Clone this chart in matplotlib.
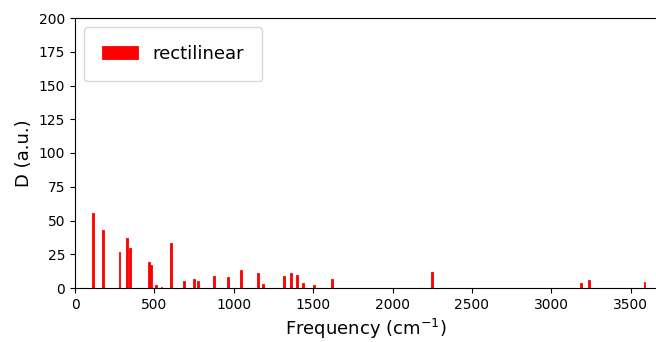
import numpy as np
import matplotlib
matplotlib.use('Agg')
import matplotlib.pyplot as plt

# Vibrational modes: frequency (cm^-1) and intensity D (a.u.)
freqs = [114, 175, 280, 326, 349, 467, 480, 511, 545, 606, 684, 751, 772,
         877, 966, 1048, 1151, 1183, 1315, 1359, 1400, 1435, 1504, 1618,
         2246, 3188, 3234, 3586]
D = [55.3, 43.0, 26.7, 37.0, 29.6, 19.0, 16.8, 2.0, 0.5, 33.0, 5.0, 6.7, 5.0,
     9.0, 8.0, 13.5, 11.0, 3.0, 8.7, 11.3, 9.6, 3.5, 2.5, 6.7,
     11.6, 3.5, 5.7, 4.2]

fig = plt.figure(figsize=(6.56, 3.42), dpi=100)
ax = fig.add_axes([75/656, 1 - 288/342, 582/656, 270/342])

ax.bar(freqs, D, width=12, color='red', edgecolor='red', linewidth=0.6,
       label='rectilinear')

ax.set_xlim(0, 3665)
ax.set_ylim(0, 200)
ax.set_yticks(np.arange(0, 201, 25))
ax.tick_params(labelsize=10)
ax.set_xlabel('Frequency (cm$^{-1}$)', fontsize=13)
ax.set_ylabel('D (a.u.)', fontsize=13)
ax.legend(loc='upper left', fontsize=13, borderpad=1.0, handlelength=2.0)

fig.savefig('out.png', dpi=100)
